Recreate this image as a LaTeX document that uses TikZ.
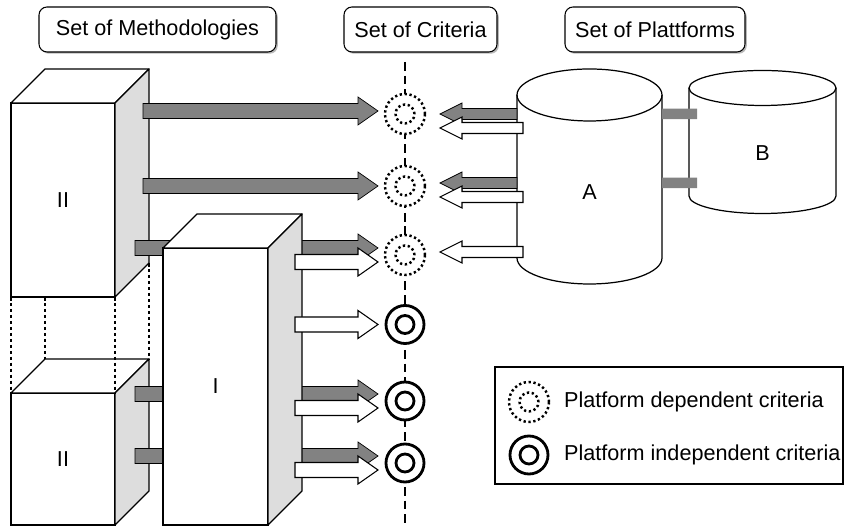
\documentclass[tikz,border=0pt]{standalone}
\usepackage{fontspec}
\setmainfont{Liberation Sans}
\usepackage{xcolor}
\definecolor{arrowgray}{RGB}{130,130,130}
\definecolor{sidegray}{RGB}{221,221,221}
\usetikzlibrary{calc, shadows}

\newcommand{\lblfont}{\fontsize{12.3}{14.8}\selectfont}

% horizontal block arrow: style, start (only x used), tip, shaft half, head half, head length
\newcommand{\blockarrow}[6]{%
  \draw[#1] let \p1=#2, \p2=#3, \p3=($(\p2)!#6!(\x1,\y2)$) in
    (\x1,\y2+#4) -- (\x3,\y2+#4) -- (\x3,\y2+#5) -- (\p2)
    -- (\x3,\y2-#5) -- (\x3,\y2-#4) -- (\x1,\y2-#4) -- cycle;}
\newcommand{\metharrow}[3]{\blockarrow{#1}{#2}{#3}{0.15cm}{0.28cm}{0.40cm}}
\newcommand{\platarrow}[3]{\blockarrow{#1}{#2}{#3}{0.11cm}{0.22cm}{0.44cm}}

% top and side face of a box whose front is node #1
\newcommand{\boxfaces}[1]{%
  \draw[face, fill=white] (#1.north west) -- ++(0.68,0.68) -- ($(#1.north east)+(0.68,0.68)$) -- (#1.north east) -- cycle;
  \draw[face, fill=sidegray] (#1.north east) -- ++(0.68,0.68) -- ($(#1.south east)+(0.68,0.68)$) -- (#1.south east) -- cycle;}

\begin{document}
\begin{tikzpicture}[
  hdr/.style={draw, rounded corners=0.16cm, fill=white, minimum height=0.90cm, font=\lblfont, line width=0.6pt,
    drop shadow={shadow xshift=0.035cm, shadow yshift=-0.035cm, fill=black!55}},
  front/.style={draw, fill=white, line width=0.7pt, inner sep=0pt, outer sep=0pt, font=\lblfont},
  face/.style={draw, line width=0.7pt, line join=round},
  hidden/.style={line width=0.6pt, dash pattern=on 2pt off 1.4pt},
  axis/.style={line width=1.1pt, dash pattern=on 5pt off 2.8pt},
  depcrit/.style={circle, draw, fill=white, minimum size=0.80cm, inner sep=0pt, line width=1.4pt,
    dash pattern=on 1.3pt off 1.5pt,
    path picture={\draw[line width=1.4pt, dash pattern=on 1.3pt off 1.5pt] (path picture bounding box.center) circle[radius=0.19cm];}},
  indcrit/.style={circle, draw, fill=white, minimum size=0.76cm, inner sep=0pt, line width=1.6pt,
    path picture={\draw[line width=1.6pt] (path picture bounding box.center) circle[radius=0.18cm];}},
  grayarrow/.style={fill=arrowgray},
  whitearrow/.style={fill=white, draw=black, line width=0.6pt},
  bar/.style={arrowgray, line width=0.21cm},
  cylbody/.style={inner sep=0pt, outer sep=0pt},
  lbl/.style={font=\lblfont}
]
  \useasboundingbox (0,0) rectangle (16.92,10.52);

  % Headings
  \node[hdr, minimum width=4.74cm] (meth) at (3.15,9.93) {Set of Methodologies};
  \node[hdr, minimum width=3.06cm] (crit) at (8.41,9.93) {Set of Criteria};
  \node[hdr, minimum width=3.60cm] (plat) at (13.10,9.93) {Set of Plattforms};

  % Criteria axis and criteria
  \draw[axis] (8.10,9.28) -- (8.10,0);
  \node[depcrit] (c1) at (8.10,8.24) {};
  \node[depcrit] (c2) at (8.10,6.80) {};
  \node[depcrit] (c3) at (8.10,5.42) {};
  \node[indcrit] (c4) at (8.10,4.03) {};
  \node[indcrit] (c5) at (8.10,2.50) {};
  \node[indcrit] (c6) at (8.10,1.26) {};

  % --- Methodology II (split box) ---
  \node[front, minimum width=2.08cm, minimum height=3.88cm] (m2a) at (1.26,6.52) {II};
  \boxfaces{m2a}
  \node[front, minimum width=2.08cm, minimum height=2.64cm] (m2b) at (1.26,1.34) {II};
  \boxfaces{m2b}
  \draw[hidden] (m2a.south west) -- (m2b.north west);
  \draw[hidden] ($(m2a.south west)+(0.68,0)$) -- ($(m2b.north west)+(0.68,0.68)$);
  \draw[hidden] (m2a.south east) -- (m2b.north east);
  \draw[hidden] ($(m2a.south east)+(0.68,0.68)$) -- ($(m2b.north east)+(0.68,0.68)$);

  \metharrow{grayarrow}{($(m2a.east)+(0.56,0)$)}{($(c1.center)+(-0.54,0.06)$)}
  \metharrow{grayarrow}{($(m2a.east)+(0.56,0)$)}{($(c2.center)+(-0.54,0)$)}
  \metharrow{grayarrow}{($(m2a.east)+(0.40,0)$)}{($(c3.center)+(-0.54,0.14)$)}
  \metharrow{grayarrow}{($(m2b.east)+(0.40,0)$)}{($(c5.center)+(-0.54,0.14)$)}
  \metharrow{grayarrow}{($(m2b.east)+(0.40,0)$)}{($(c6.center)+(-0.54,0.14)$)}

  % --- Methodology I ---
  \node[front, minimum width=2.10cm, minimum height=5.54cm] (m1) at (4.31,2.79) {I};
  \boxfaces{m1}
  \metharrow{whitearrow}{($(m1.east)+(0.54,0)$)}{($(c3.center)+(-0.54,-0.14)$)}
  \metharrow{whitearrow}{($(m1.east)+(0.54,0)$)}{($(c4.center)+(-0.54,0)$)}
  \metharrow{whitearrow}{($(m1.east)+(0.54,0)$)}{($(c5.center)+(-0.54,-0.14)$)}
  \metharrow{whitearrow}{($(m1.east)+(0.54,0)$)}{($(c6.center)+(-0.54,-0.14)$)}

  % --- Platforms ---
  \node[cylbody, minimum width=2.94cm, minimum height=2.16cm,
        label={[lbl, yshift=-0.22cm]center:B}] (B) at (15.25,7.68) {};
  \draw[face] (B.north west) -- (B.south west)
    arc[start angle=180, end angle=360, x radius=1.47cm, y radius=0.35cm] -- (B.north east);
  \draw[face] (B.north) ellipse[x radius=1.47cm, y radius=0.35cm];

  \node[cylbody, minimum width=2.90cm, minimum height=3.26cm,
        label={[lbl, yshift=-0.31cm]center:A}] (A) at (11.79,6.99) {};
  \draw[face] (A.north west) -- (A.south west)
    arc[start angle=180, end angle=360, x radius=1.45cm, y radius=0.52cm] -- (A.north east);
  \draw[face] (A.north) ellipse[x radius=1.45cm, y radius=0.52cm];

  \draw[bar] ($(A.east)+(0,1.25)$) -- ($(B.west)+(0.16,0.56)$);
  \draw[bar] ($(A.east)+(0,-0.13)$) -- ($(B.west)+(0.16,-0.82)$);

  \platarrow{grayarrow}{(A.west)}{($(c1.center)+(0.70,0)$)}
  \platarrow{whitearrow}{($(A.west)+(0.12,0)$)}{($(c1.center)+(0.70,-0.28)$)}
  \platarrow{grayarrow}{(A.west)}{($(c2.center)+(0.70,0.06)$)}
  \platarrow{whitearrow}{($(A.west)+(0.12,0)$)}{($(c2.center)+(0.70,-0.22)$)}
  \platarrow{whitearrow}{($(A.west)+(0.12,0)$)}{($(c3.center)+(0.70,0.06)$)}

  % Legend
  \node[draw, line width=0.6pt, inner sep=0pt, minimum width=6.96cm, minimum height=2.34cm] (legend) at (13.38,2.01) {};
  \node[depcrit] (ldep) at (10.58,2.48) {};
  \node[lbl, anchor=west] (tdep) at (11.16,2.48) {Platform dependent criteria};
  \node[indcrit] (lind) at (10.58,1.42) {};
  \node[lbl, anchor=west] (tind) at (11.16,1.42) {Platform independent criteria};
\end{tikzpicture}
\end{document}
